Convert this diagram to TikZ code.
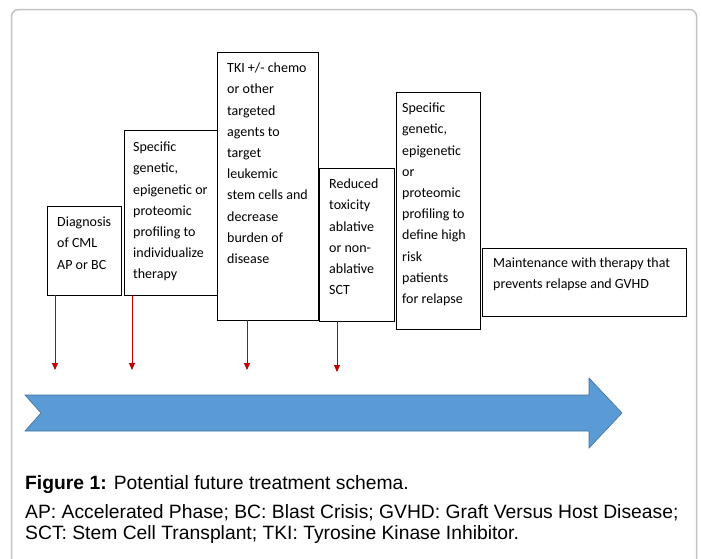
\documentclass[tikz,border=0pt]{standalone}
\usepackage{fontspec}
\setmainfont{Carlito}
\newfontfamily\capfont{Liberation Sans}
\usetikzlibrary{arrows.meta}
\definecolor{framegray}{RGB}{195,195,195}
\definecolor{arrred}{RGB}{192,0,0}
\definecolor{bigblue}{RGB}{91,155,213}
\definecolor{bigblueedge}{RGB}{65,113,156}
\newcommand{\fl}{\rule{0pt}{12pt}}
\begin{document}
\begin{tikzpicture}[x=1pt,y=-1pt,
  stepbox/.style={draw=black,line width=0.8pt,fill=white},
  boxtext/.style={anchor=north west,inner sep=0pt,align=left,font=\fontsize{14}{21.2}\selectfont},
  redarrow/.style={draw=arrred,line width=0.9pt,-{Triangle[length=7pt,width=6pt]}},
  captext/.style={anchor=base west,inner sep=0pt,font=\capfont\fontsize{19.3}{22}\selectfont}]
\useasboundingbox (0,0) rectangle (702,558);
\fill[white] (0,0) rectangle (702,558);
% frame
\draw[framegray,line width=1.5pt,rounded corners=7pt] (11.5,575) -- (11.5,9.5) -- (696.5,9.5) -- (696.5,575);
% boxes
\path[stepbox] (47,206) rectangle (121,295);
\path[stepbox] (124,130) rectangle (217,295);
\path[stepbox] (217,52) rectangle (318,320);
\path[stepbox] (319,168) rectangle (394,321);
\path[stepbox] (396,92) rectangle (480,329);
\path[stepbox] (482,248) rectangle (686,316);
% texts
\node[boxtext] (t1) at (57,214.5) {\fl Diagnosis\\of CML\\AP or BC};
\node[boxtext] (t2) at (133,139.5) {\fl Specific\\genetic,\\epigenetic or\\proteomic\\profiling to\\individualize\\therapy};
\node[boxtext] (t3) at (227,60.5) {\fl TKI +/- chemo\\or other\\targeted\\agents to\\target\\leukemic\\stem cells and\\decrease\\burden of\\disease};
\node[boxtext] (t4) at (329,176.5) {\fl Reduced\\toxicity\\ablative\\or non-\\ablative\\SCT};
\node[boxtext] (t5) at (402,100.5) {\fl Specific\\genetic,\\epigenetic\\or\\proteomic\\profiling to\\define high\\risk\\patients\\for relapse};
\node[boxtext] (t6) at (493,255.5) {\fl Maintenance with therapy that\\prevents relapse and GVHD};
% arrow anchors
\coordinate (s1) at (55,295); \coordinate (e1) at (55,370);
\coordinate (s2) at (132,295); \coordinate (e2) at (132,370);
\coordinate (s3) at (247,320); \coordinate (e3) at (247,370);
\coordinate (s4) at (337,321); \coordinate (e4) at (337,372);
\draw[redarrow] (s1) -- (e1);
\draw[redarrow] (s2) -- (e2);
\draw[redarrow] (s3) -- (e3);
\draw[redarrow] (s4) -- (e4);
% big arrow
\draw[fill=bigblue,draw=bigblueedge,line width=0.6pt,line join=miter]
  (25,395) -- (589,395) -- (589,378) -- (622,413) -- (589,448) -- (589,431) -- (25,431) -- (41,413) -- cycle;
% caption
\node[captext] (c1) at (25,489) {\textbf{Figure 1:} Potential future treatment schema.};
\node[captext] (c2) at (25,518) {AP: Accelerated Phase; BC: Blast Crisis; GVHD: Graft Versus Host Disease;};
\node[captext] (c3) at (25,539) {SCT: Stem Cell Transplant; TKI: Tyrosine Kinase Inhibitor.};
\end{tikzpicture}
\end{document}
